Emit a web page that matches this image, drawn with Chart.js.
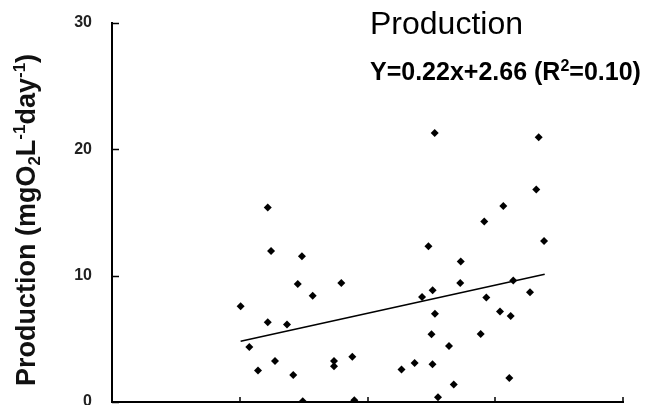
<!DOCTYPE html>
<html>
<head>
<meta charset="utf-8">
<script src="https://cdn.jsdelivr.net/npm/chart.js@4/dist/chart.umd.min.js"></script>
<style>
  html, body { margin: 0; padding: 0; background: #fff; }
  #wrap { width: 660px; height: 405px; }
</style>
</head>
<body>
<div id="wrap"><canvas id="c" width="660" height="405"></canvas></div>
<script>
// ---- data ----
const xValues = [10.07,10.75,11.43,12.19,12.19,12.45,12.76,13.70,14.19,14.54,14.87,14.93,15.71,17.38,17.38,17.95,18.81,18.97,22.66,23.69,24.27,24.77,25.10,25.26,25.28,25.01,25.09,25.52,26.38,26.75,27.30,27.26,28.86,29.14,29.30,30.37,30.63,31.10,31.21,31.41,32.72,33.21,33.40,33.82];
const yValues = [7.58,4.35,2.49,15.39,6.31,11.96,3.25,6.13,2.14,9.34,11.54,0.06,8.42,3.25,2.83,9.42,3.59,0.13,2.57,3.09,8.31,12.33,8.84,21.30,6.98,5.36,2.98,0.37,4.43,1.38,11.12,9.42,5.38,14.28,8.27,7.16,15.52,1.90,6.81,9.61,8.69,16.82,20.96,12.75];
const trendX = [10.07, 33.87];
const trendY = [4.81, 10.11];
const xTicks = [0, 10, 20, 30, 40];
const yTicks = [0, 10, 20, 30];
const titleText = "Production";
const equationParts = [["Y=0.22x+2.66 (R", "n"], ["2", "sup"], ["=0.10)", "n"]];
const yTitleParts = [["Production (mgO", "n"], ["2", "sub"], ["L", "n"], ["-1", "sup"], ["day", "n"], ["-1", "sup"], [")", "n"]];

const FONT = '"Liberation Sans", Arial, Helvetica, sans-serif';

function drawRich(ctx, parts, size, x, y, align) {
  const small = Math.round(size * 0.62);
  const fontN = 'bold ' + size + 'px ' + FONT;
  const fontS = 'bold ' + small + 'px ' + FONT;
  let total = 0;
  const widths = parts.map(([t, s]) => {
    ctx.font = s === 'n' ? fontN : fontS;
    const w = ctx.measureText(t).width;
    total += w;
    return w;
  });
  let cx = align === 'center' ? x - total / 2 : x;
  ctx.textBaseline = 'alphabetic';
  ctx.textAlign = 'left';
  parts.forEach(([t, s], i) => {
    ctx.font = s === 'n' ? fontN : fontS;
    let dy = 0;
    if (s === 'sup') dy = -size * 0.38;
    if (s === 'sub') dy = size * 0.2;
    ctx.fillText(t, cx, y + dy);
    cx += widths[i];
  });
}

const decor = {
  id: 'decor',
  afterDraw(chart) {
    const ctx = chart.ctx;
    const xs = chart.scales.x, ys = chart.scales.y;
    ctx.save();
    // inner tick marks
    ctx.strokeStyle = '#000';
    ctx.lineWidth = 1.5;
    ctx.beginPath();
    yTicks.forEach(v => {
      const py = Math.round(ys.getPixelForValue(v)) + 0.5;
      ctx.moveTo(xs.left, py);
      ctx.lineTo(xs.left + 7, py);
    });
    xTicks.forEach(v => {
      const px = Math.round(xs.getPixelForValue(v));
      ctx.moveTo(px, ys.bottom);
      ctx.lineTo(px, ys.bottom - 5);
    });
    ctx.stroke();

    // title and equation
    ctx.fillStyle = '#000';
    ctx.font = '32px ' + FONT;
    ctx.textAlign = 'left';
    ctx.textBaseline = 'alphabetic';
    ctx.fillText(titleText, 370, 34);
    drawRich(ctx, equationParts, 25, 370, 80, 'left');

    // y axis title
    ctx.translate(35, 220);
    ctx.rotate(-Math.PI / 2);
    ctx.fillStyle = '#111';
    drawRich(ctx, yTitleParts, 27, 0, 0, 'center');
    ctx.restore();
  }
};

const points = xValues.map((x, i) => ({ x: x, y: yValues[i] }));
const trend = trendX.map((x, i) => ({ x: x, y: trendY[i] }));

new Chart(document.getElementById('c'), {
  type: 'scatter',
  data: {
    datasets: [
      { data: points, pointStyle: 'rectRot', pointRadius: 4, pointBackgroundColor: '#000', pointBorderColor: '#000', pointBorderWidth: 0, showLine: false },
      { data: trend, showLine: true, borderColor: '#000', borderWidth: 1.6, pointRadius: 0, fill: false }
    ]
  },
  options: {
    responsive: false,
    animation: false,
    layout: { autoPadding: false, padding: { top: 23, right: 37, bottom: 3, left: 0 } },
    plugins: { legend: { display: false }, tooltip: { enabled: false }, title: { display: false } },
    scales: {
      x: {
        type: 'linear', min: 0, max: 40,
        ticks: { display: false, stepSize: 10 },
        grid: { display: false },
        border: { display: true, color: '#000', width: 2 },
        afterFit(s) { s.height = 0; s.paddingLeft = 0; s.paddingRight = 0; }
      },
      y: {
        type: 'linear', min: 0, max: 30,
        ticks: { stepSize: 10, padding: 12, color: '#222', font: { family: FONT, size: 16, weight: 'bold' } },
        grid: { display: false },
        border: { display: true, color: '#000', width: 2 },
        afterFit(s) { s.width = 112; s.paddingTop = 0; s.paddingBottom = 0; }
      }
    }
  },
  plugins: [decor]
});
</script>
</body>
</html>
